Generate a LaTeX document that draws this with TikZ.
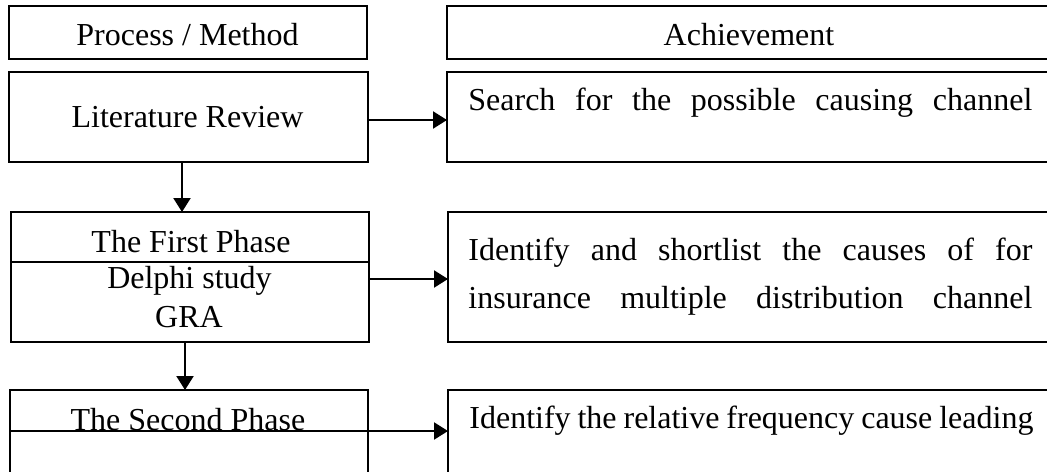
\documentclass[tikz,border=0pt]{standalone}
\usepackage{fontspec}
\setmainfont{Liberation Serif}
\usetikzlibrary{arrows.meta}
\begin{document}
\begin{tikzpicture}[x=0.5pt,y=-0.5pt,
  box/.style={draw, line width=0.75pt, inner sep=0pt, outer sep=0pt},
  arr/.style={line width=1.1pt, -{Triangle[length=7pt,width=8.5pt]}},
  lbl/.style={inner sep=0pt, anchor=base, font=\fontsize{16}{19}\selectfont},
  lblw/.style={lbl, anchor=base west}]
\useasboundingbox (0,0) rectangle (1047,471);
\clip (0,0) rectangle (1047,471);
% boxes
\node[box, minimum width=179pt, minimum height=26.5pt] (pm) at (188,32.5) {};
\node[box, minimum width=306.5pt, minimum height=26.5pt] (ach) at (753.5,32.5) {};
\node[box, minimum width=179.5pt, minimum height=45pt] (lr) at (188.5,117) {};
\node[box, minimum width=306.5pt, minimum height=45pt] (s) at (753.5,117) {};
\node[box, minimum width=179pt, minimum height=65pt] (fp) at (190,277) {};
\node[box, minimum width=306pt, minimum height=65pt] (id) at (754,277) {};
\node[box, minimum width=179pt, minimum height=45pt] (sp) at (189,435) {};
\node[box, minimum width=306pt, minimum height=45pt] (id2) at (754,435) {};
% dividers
\coordinate (d1) at (0,262);
\coordinate (d2) at (0,431);
\draw[line width=0.75pt] (fp.west |- d1) -- (fp.east |- d1);
\draw[line width=0.75pt] (sp.west |- d2) -- (sp.east |- d2);
% texts
\node[lbl] (tpm) at (187.5,45) {Process / Method};
\node[lbl] (tach) at (749,45) {Achievement};
\node[lbl] (tlr) at (187.5,127) {Literature Review};
\node[lblw] (ts) at (468,110) {\makebox[282pt][s]{Search for the possible causing channel}};
\node[lbl] (tfp) at (191,252) {The First Phase};
\node[lbl] (tdel) at (189.5,288) {Delphi study};
\node[lbl] (tgra) at (189,327) {GRA};
\node[lblw] (tid1) at (468,260) {\makebox[282pt][s]{Identify and shortlist the causes of for}};
\node[lblw] (tid2) at (468,308) {\makebox[282pt][s]{insurance multiple distribution channel}};
\node[lbl] (tsp) at (188,430) {The Second Phase};
\node[lblw] (tid3) at (469,428) {\makebox[282pt][s]{Identify the relative frequency cause leading}};
% arrows
\coordinate (h1) at (0,120);
\coordinate (h2) at (0,279);
\coordinate (v1) at (182,0);
\coordinate (v2) at (185,0);
\draw[arr] (lr.east |- h1) -- (s.west |- h1);
\draw[arr] (fp.east |- h2) -- (id.west |- h2);
\draw[arr] (sp.east |- d2) -- (id2.west |- d2);
\draw[arr] (lr.south -| v1) -- (fp.north -| v1);
\draw[arr] (fp.south -| v2) -- (sp.north -| v2);
\end{tikzpicture}
\end{document}
